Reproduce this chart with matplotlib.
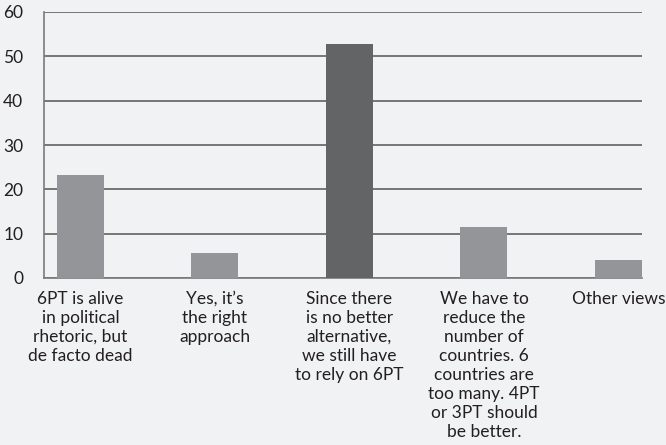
import numpy as np
import matplotlib
matplotlib.use("Agg")
import matplotlib.pyplot as plt

# survey answers about the six-party talks
categories = [
    "6PT is alive\nin political\nrhetoric, but\nde facto dead",
    "Yes, it\u2019s\nthe right\napproach",
    "Since there\nis no better\nalternative,\nwe still have\nto rely on 6PT",
    "We have to\nreduce the\nnumber of\ncountries. 6\ncountries are\ntoo many. 4PT\nor 3PT should\nbe better.",
    "Other views",
]
values = [23.2, 5.6, 52.8, 11.5, 4.1]
bar_colors = ["#939598", "#939598", "#636466", "#939598", "#939598"]
yticks = [0, 10, 20, 30, 40, 50, 60]

plt.rcParams['font.family'] = ['Lato', 'DejaVu Sans']

bg = "#f1f2f4"
fig = plt.figure(figsize=(6.66, 4.45), dpi=100, facecolor=bg)
ax = fig.add_axes([44/666, 167/445, 598/666, 266/445], facecolor=bg)

x = np.arange(len(values))
ax.bar(x, values, width=0.35, color=bar_colors, zorder=3)

ax.set_ylim(0, 60)
ax.set_xlim(-0.271, 4.175)
ax.set_yticks(yticks)
ax.yaxis.grid(True, color="#555555", linewidth=1.1, zorder=1)
ax.set_axisbelow(True)

ax.set_xticks(x)
ax.set_xticklabels(categories, fontsize=12.5, color="#231f20", linespacing=1.24, va="top")
for lbl in ax.get_yticklabels():
    lbl.set_fontsize(12.5)
    lbl.set_color("#231f20")
ax.tick_params(axis="both", length=0)
ax.tick_params(axis="y", pad=15)
ax.tick_params(axis="x", pad=9)

for s in ["top", "right"]:
    ax.spines[s].set_visible(False)
ax.spines["left"].set_color("#7a7a7a")
ax.spines["bottom"].set_color("#7a7a7a")
ax.spines["left"].set_linewidth(1.2)
ax.spines["bottom"].set_linewidth(1.2)

fig.savefig("out.png", dpi=100, facecolor=bg)
